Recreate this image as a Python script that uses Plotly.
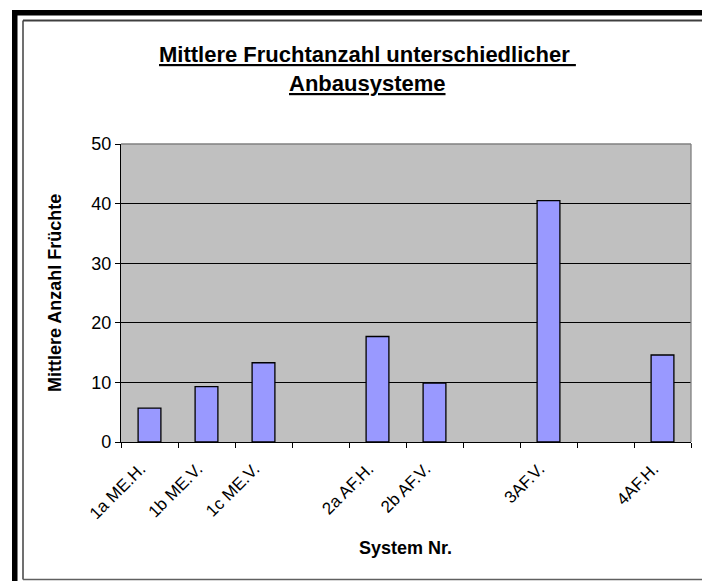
import plotly.graph_objects as go

# ---- data ----
categories = ["1a ME.H.", "1b ME.V.", "1c ME.V.", " ", "2a AF.H.", "2b AF.V.", "  ", "3AF.V.", "   ", "4AF.H."]
values = [5.7, 9.3, 13.3, None, 17.7, 9.9, None, 40.5, None, 14.6]
y_ticks = [0, 10, 20, 30, 40, 50]
title_line1 = "Mittlere Fruchtanzahl unterschiedlicher "
title_line2 = "Anbausysteme"
x_title = "System Nr."
y_title = "Mittlere Anzahl Früchte"

W, H = 702, 581
L, R, T, B = 121, 11, 144, 139
PW, PH = W - L - R, H - T - B

def px(x):
    return (x - L) / PW

def py(y):
    return (H - B - y) / PH

FONT = "Liberation Sans, Arial, sans-serif"

fig = go.Figure(
    go.Bar(
        x=categories,
        y=values,
        marker=dict(color="#9999FF", line=dict(color="black", width=1.3)),
        width=0.4,
    )
)

shapes = [
    # plot-area border (top/right gray)
    dict(type="line", xref="paper", yref="paper", x0=0, x1=1, y0=1, y1=1,
         line=dict(color="#808080", width=1.3), layer="above"),
    dict(type="line", xref="paper", yref="paper", x0=1, x1=1, y0=0, y1=1,
         line=dict(color="#808080", width=1.3), layer="above"),
    # outer thick black frame (top, left)
    dict(type="rect", xref="paper", yref="paper", x0=px(12), x1=px(W + 5), y0=py(10), y1=py(15.5),
         fillcolor="black", line=dict(width=0)),
    dict(type="rect", xref="paper", yref="paper", x0=px(12), x1=px(17.5), y0=py(10), y1=py(H + 5),
         fillcolor="black", line=dict(width=0)),
    # inner chart-area border
    dict(type="line", xref="paper", yref="paper", x0=px(23), x1=px(W + 5), y0=py(20.5), y1=py(20.5),
         line=dict(color="#404040", width=2)),
    dict(type="line", xref="paper", yref="paper", x0=px(23), x1=px(23), y0=py(20.5), y1=py(579.5),
         line=dict(color="#404040", width=1.5)),
    dict(type="line", xref="paper", yref="paper", x0=px(23), x1=px(W + 5), y0=py(579.5), y1=py(579.5),
         line=dict(color="#606060", width=1.5)),
]

annotations = [
    dict(text="<b><u>" + title_line1 + "</u></b>", xref="paper", yref="paper",
         x=px(367), y=py(54), showarrow=False, xanchor="center", yanchor="middle",
         font=dict(family=FONT, size=22, color="black")),
    dict(text="<b><u>" + title_line2 + "</u></b>", xref="paper", yref="paper",
         x=px(367), y=py(83), showarrow=False, xanchor="center", yanchor="middle",
         font=dict(family=FONT, size=22, color="black")),
    dict(text="<b>" + x_title + "</b>", xref="paper", yref="paper",
         x=px(405), y=py(548), showarrow=False, xanchor="center", yanchor="middle",
         font=dict(family=FONT, size=18, color="black")),
    dict(text="<b>" + y_title + "</b>", xref="paper", yref="paper",
         x=px(55), y=py(293), showarrow=False, xanchor="center", yanchor="middle",
         textangle=-90, font=dict(family=FONT, size=18, color="black")),
]

fig.update_layout(
    width=W, height=H,
    margin=dict(l=L, r=R, t=T, b=B, pad=0),
    paper_bgcolor="white",
    plot_bgcolor="#C0C0C0",
    showlegend=False,
    font=dict(family=FONT, size=18, color="black"),
    shapes=shapes,
    annotations=annotations,
    bargap=0.6,
)

fig.update_xaxes(
    type="category",
    categoryorder="array", categoryarray=categories,
    tickson="boundaries",
    ticks="outside", ticklen=5, tickcolor="black", tickwidth=1,
    showline=True, linecolor="black", linewidth=1.3,
    showgrid=False,
    tickangle=-45,
    ticklabelshift=-9,
    ticklabelstandoff=9,
    tickfont=dict(family=FONT, size=17, color="black"),
    automargin=False,
)

fig.update_yaxes(
    range=[0, 50],
    tickvals=y_ticks,
    ticks="outside", ticklen=5, tickcolor="black", tickwidth=1,
    showline=True, linecolor="black", linewidth=1.3,
    showgrid=True, gridcolor="black", gridwidth=1,
    zeroline=False,
    tickfont=dict(family=FONT, size=18, color="black"),
    automargin=False,
)

fig.write_html(
    "out.html",
    config={"displayModeBar": False},
    post_script="document.body.style.margin='0';document.body.style.overflow='hidden';",
)
